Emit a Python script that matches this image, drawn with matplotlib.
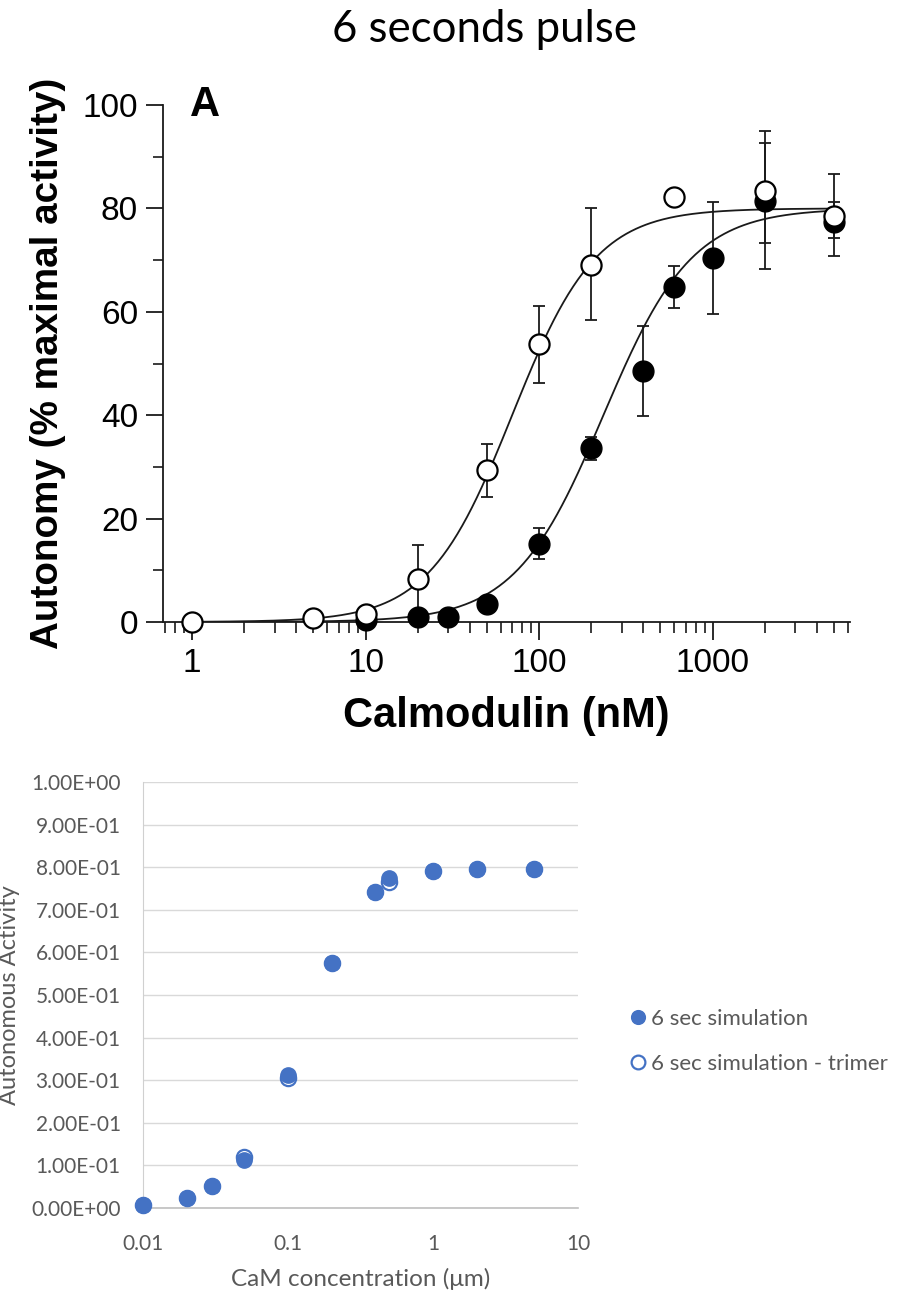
import numpy as np
import matplotlib.pyplot as plt
from matplotlib.ticker import FixedLocator, NullFormatter, FixedFormatter

# ------------------------------------------------------------
# Panel A data (scanned figure): calmodulin (nM) vs autonomy (%)
# ------------------------------------------------------------
open_x   = [1, 5, 10, 20, 50, 100, 200, 600, 2000, 5000]
open_y   = [0, 0.7, 1.5, 8.3, 29.4, 53.7, 69.1, 82.2, 83.3, 78.6]
open_lo  = [0, 0, 0, 7.3, 5.2, 7.4, 10.6, 0, 9.9, 7.8]
open_hi  = [0, 0, 0, 6.6, 5.0, 7.5, 10.9, 0, 11.6, 8.0]

fill_x   = [10, 20, 30, 50, 100, 200, 400, 600, 1000, 2000, 5000]
fill_y   = [0.3, 1.0, 0.9, 3.5, 15.1, 33.7, 48.5, 64.8, 70.4, 81.5, 77.4]
fill_lo  = [0, 0, 0, 0, 2.9, 2.3, 8.6, 4.0, 10.8, 13.3, 3.1]
fill_hi  = [0, 0, 0, 0, 3.0, 2.1, 8.7, 4.0, 10.8, 11.2, 3.8]

# Hill fits drawn through the points
fit_top  = 80.0
open_k, open_n = 70.0, 1.8
fill_k, fill_n = 235.0, 1.7

# ------------------------------------------------------------
# Panel B data: simulation, CaM (uM) vs autonomous activity
# ------------------------------------------------------------
sim_x      = [0.01, 0.02, 0.03, 0.05, 0.1, 0.2, 0.4, 0.5, 1, 2, 5]
sim_y      = [0.007, 0.024, 0.052, 0.112, 0.312, 0.574, 0.743, 0.775, 0.791, 0.795, 0.797]
trimer_y   = [0.007, 0.024, 0.052, 0.119, 0.305, 0.574, 0.743, 0.765, 0.791, 0.795, 0.797]

y_ticks_b  = [0.0, 0.1, 0.2, 0.3, 0.4, 0.5, 0.6, 0.7, 0.8, 0.9, 1.0]
y_labels_b = ['0.00E+00', '1.00E-01', '2.00E-01', '3.00E-01', '4.00E-01', '5.00E-01',
              '6.00E-01', '7.00E-01', '8.00E-01', '9.00E-01', '1.00E+00']
x_ticks_b  = [0.01, 0.1, 1, 10]
x_labels_b = ['0.01', '0.1', '1', '10']

BLUE = '#4472C4'
GRAY_TXT = '#595959'
INK = '#1a1a1a'
ARIAL = 'Liberation Sans'
CALIBRI = 'Lato'

fig = plt.figure(figsize=(9.13, 12.95), dpi=100)

fig.text(0.531, 0.977, '6 seconds pulse', ha='center', va='center',
         fontsize=31.5, family=CALIBRI)

# ============================================================
# TOP — reproduced scan
# ============================================================
ax = fig.add_axes([0.1785, 0.5197, 0.7525, 0.3992])
ax.set_xscale('log')
ax.set_xlim(0.68, 6200)
ax.set_ylim(0, 100)

xs = np.logspace(0, np.log10(5000), 400)
ax.plot(xs, fit_top * xs**open_n / (xs**open_n + open_k**open_n), color=INK, lw=1.3, zorder=2)
ax.plot(xs, fit_top * xs**fill_n / (xs**fill_n + fill_k**fill_n), color=INK, lw=1.3, zorder=2)

ax.errorbar(fill_x, fill_y, yerr=[fill_lo, fill_hi], fmt='none', ecolor=INK,
            elinewidth=1.3, capsize=4, capthick=1.3, zorder=3, clip_on=False)
ax.errorbar(open_x, open_y, yerr=[open_lo, open_hi], fmt='none', ecolor=INK,
            elinewidth=1.3, capsize=4, capthick=1.3, zorder=3, clip_on=False)
ax.plot(fill_x, fill_y, 'o', ms=15, mfc='black', mec='black', zorder=4, clip_on=False)
ax.plot(open_x, open_y, 'o', ms=14.5, mfc='white', mec='black', mew=1.6, zorder=5, clip_on=False)

for s in ['top', 'right']:
    ax.spines[s].set_visible(False)
for s in ['left', 'bottom']:
    ax.spines[s].set_linewidth(1.3)
    ax.spines[s].set_color(INK)

ax.yaxis.set_major_locator(FixedLocator(np.arange(0, 101, 20)))
ax.yaxis.set_minor_locator(FixedLocator(np.arange(10, 100, 20)))
ax.yaxis.set_minor_formatter(NullFormatter())
ax.tick_params(axis='y', which='major', direction='out', length=12, width=1.3, color=INK,
               labelsize=24, pad=6)
ax.tick_params(axis='y', which='minor', direction='out', length=7, width=1.2, color=INK)
ax.tick_params(axis='x', which='major', direction='out', length=13, width=1.3,
               color=INK, labelsize=24, pad=6)
ax.tick_params(axis='x', which='minor', direction='out', length=8, width=1.2, color=INK)
ax.xaxis.set_major_locator(FixedLocator([1, 10, 100, 1000]))
ax.xaxis.set_major_formatter(FixedFormatter(['1', '10', '100', '1000']))
minors = [m * 10**d for d in range(-1, 4) for m in range(2, 10)]
minors = [m for m in minors if 0.68 <= m <= 6000]
ax.xaxis.set_minor_locator(FixedLocator(minors))
ax.xaxis.set_minor_formatter(NullFormatter())
for lab in ax.get_xticklabels() + ax.get_yticklabels():
    lab.set_family(ARIAL)

ax.set_xlabel('Calmodulin (nM)', fontsize=30, fontweight='bold', family=ARIAL, labelpad=12)
ax.set_ylabel('Autonomy (% maximal activity)', fontsize=27.8, fontweight='bold', family=ARIAL, labelpad=12)
ax.text(0.04, 1.0, 'A', transform=ax.transAxes, fontsize=30, fontweight='bold',
        family=ARIAL, va='center', ha='left')

# ============================================================
# BOTTOM — simulation (Excel-like)
# ============================================================
bx = fig.add_axes([0.1566, 0.0672, 0.4765, 0.3289])
bx.set_xscale('log')
bx.set_xlim(0.01, 10)
bx.set_ylim(0, 1.0)

bx.plot(sim_x, trimer_y, 'o', ms=11, mfc='white', mec=BLUE, mew=1.6,
        label='6 sec simulation - trimer', zorder=3, clip_on=False)
bx.plot(sim_x, sim_y, 'o', ms=11, mfc=BLUE, mec=BLUE,
        label='6 sec simulation', zorder=4, clip_on=False)

bx.yaxis.set_major_locator(FixedLocator(y_ticks_b))
bx.yaxis.set_major_formatter(FixedFormatter(y_labels_b))
bx.xaxis.set_major_locator(FixedLocator(x_ticks_b))
bx.xaxis.set_major_formatter(FixedFormatter(x_labels_b))
bx.xaxis.set_minor_locator(FixedLocator([]))
bx.grid(axis='y', color='#D9D9D9', lw=1.0)
bx.set_axisbelow(True)
bx.tick_params(axis='y', length=0, labelsize=15, labelcolor=GRAY_TXT, pad=16)
bx.tick_params(axis='x', length=0, labelsize=15, labelcolor=GRAY_TXT, pad=19)
for lab in bx.get_xticklabels() + bx.get_yticklabels():
    lab.set_family(CALIBRI)
for s in ['top', 'right']:
    bx.spines[s].set_visible(False)
bx.spines['left'].set_color('#D0D0D0')
bx.spines['bottom'].set_color('#BFBFBF')
bx.spines['bottom'].set_linewidth(1.2)

# axis titles placed like Excel's
fig.text(361 / 913, 1 - 1279 / 1295, 'CaM concentration (\u03bcm)', ha='center', va='center',
         fontsize=17.5, color=GRAY_TXT, family=CALIBRI)
fig.text(10 / 913, 1 - 995 / 1295, 'Autonomous Activity', ha='center', va='center',
         rotation=90, fontsize=17, color=GRAY_TXT, family=CALIBRI)

h, l = bx.get_legend_handles_labels()
leg = fig.legend([h[1], h[0]], [l[1], l[0]], loc='center left', bbox_to_anchor=(0.67, 0.1958),
                 frameon=False, handlelength=0.6, handletextpad=0.25,
                 labelspacing=1.1, markerscale=0.9, prop={'family': CALIBRI, 'size': 16})
for t in leg.get_texts():
    t.set_color(GRAY_TXT)

fig.savefig('out.png', dpi=100)
